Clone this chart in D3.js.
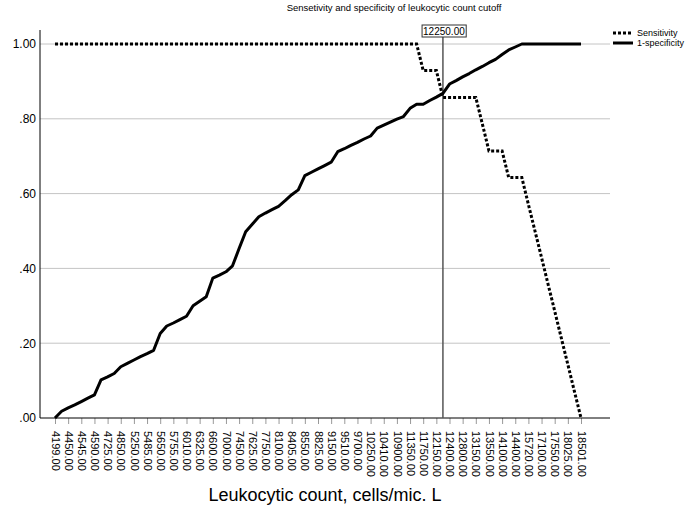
<!DOCTYPE html>
<html>
<head>
<meta charset="utf-8">
<script src="https://cdn.jsdelivr.net/npm/d3@7"></script>
<style>
  html, body { margin: 0; padding: 0; background: #fff; }
  svg { display: block; font-family: "Liberation Sans", Arial, sans-serif; }
</style>
</head>
<body>
<svg id="chart" width="685" height="510"></svg>
<script>
// Cut-off values (every other one is labelled on the axis)
const cutoffs = [4199,4300,4450,4500,4545,4570,4590,4650,4725,4800,4850,5050,5250,5350,5485,5550,5650,5700,5755,5900,
  6010,6150,6325,6450,6600,6800,7000,7250,7450,7550,7625,7700,7750,7900,8100,8250,8405,8500,8550,8700,
  8825,9000,9150,9350,9510,9600,9700,9950,10250,10350,10410,10650,10900,11100,11350,11550,11750,11950,12150,12250,
  12400,12600,12800,12950,13150,13350,13550,13800,14100,14250,14400,15050,15720,16400,17100,17300,17550,17800,18025,18250,18501];

const tickLabels = [4199,4450,4545,4590,4725,4850,5250,5485,5650,5755,6010,6325,6600,7000,7450,7625,7750,8100,8405,8550,
  8825,9150,9510,9700,10250,10410,10900,11350,11750,12150,12400,12800,13150,13550,14100,14400,15720,17100,17550,18025,18501];

const sensitivity = [1,1,1,1,1,1,1,1,1,1,1,1,1,1,1,1,1,1,1,1,
  1,1,1,1,1,1,1,1,1,1,1,1,1,1,1,1,1,1,1,1,
  1,1,1,1,1,1,1,1,1,1,1,1,1,1,1,1,0.929,0.929,0.929,0.857,
  0.857,0.857,0.857,0.857,0.857,0.786,0.714,0.714,0.714,0.643,0.643,0.643,0.571,0.5,0.429,0.357,0.286,0.214,0.143,0.071,0];

const oneMinusSpecificity = [0,0.018,0.027,0.035,0.044,0.053,0.062,0.102,0.110,0.119,0.137,0.146,0.155,0.164,0.172,0.181,0.226,0.246,0.254,0.263,
  0.272,0.300,0.312,0.324,0.374,0.382,0.391,0.407,0.453,0.498,0.518,0.538,0.548,0.557,0.566,0.581,0.597,0.610,0.648,0.657,
  0.666,0.675,0.684,0.712,0.720,0.729,0.737,0.746,0.754,0.775,0.783,0.791,0.799,0.806,0.828,0.839,0.839,0.849,0.858,0.868,
  0.893,0.902,0.912,0.921,0.931,0.940,0.950,0.959,0.972,0.984,0.992,1,1,1,1,1,1,1,1,1,1];

const yTicks = [0, 0.2, 0.4, 0.6, 0.8, 1.0];
const refCutoff = 12250;
const title = "Sensetivity and specificity of leukocytic count cutoff";
const xTitle = "Leukocytic count, cells/mic. L";
const seriesNames = ["Sensitivity", "1-specificity"];

const svg = d3.select("#chart");
const plot = { left: 40, right: 610, top: 30, bottom: 418 };

const x = d3.scalePoint().domain(cutoffs).range([55, 581]);
const y = d3.scaleLinear().domain([0, 1]).range([plot.bottom, 44]);

// Title
svg.append("text").attr("x", 394).attr("y", 11).attr("text-anchor", "middle")
  .attr("font-size", 9.5).attr("fill", "#000").text(title);

// Gridlines
svg.append("g").selectAll("line").data(yTicks.filter(d => d > 0)).join("line")
  .attr("x1", plot.left).attr("x2", plot.right)
  .attr("y1", d => y(d)).attr("y2", d => y(d))
  .attr("stroke", "#c4c4c4").attr("stroke-width", 1);

// Y axis
const yAxis = svg.append("g").attr("transform", `translate(${plot.left},0)`)
  .call(d3.axisLeft(y).tickValues(yTicks).tickSize(0).tickPadding(4)
    .tickFormat(d => d.toFixed(2).replace(/^0/, "")));
yAxis.select(".domain").remove();
yAxis.selectAll("text").attr("font-size", 12).attr("fill", "#000").style("font-family", "Liberation Sans, Arial, sans-serif");
svg.append("line").attr("x1", plot.left).attr("x2", plot.left)
  .attr("y1", plot.top).attr("y2", plot.bottom).attr("stroke", "#000").attr("stroke-width", 1);

// X axis
const xAxis = svg.append("g").attr("transform", `translate(0,${plot.bottom})`)
  .call(d3.axisBottom(x).tickValues(tickLabels).tickSizeOuter(0).tickSize(6)
    .tickFormat(d => d.toFixed(2)));
xAxis.select(".domain").remove();
xAxis.selectAll(".tick line").attr("stroke", "#999");
xAxis.selectAll("text")
  .attr("transform", "rotate(90)")
  .attr("text-anchor", "start")
  .attr("x", 13).attr("y", 0).attr("dy", "0.35em")
  .attr("font-size", 11).attr("fill", "#000").style("font-family", "Liberation Sans, Arial, sans-serif");
svg.append("line").attr("x1", plot.left).attr("x2", plot.right)
  .attr("y1", plot.bottom).attr("y2", plot.bottom).attr("stroke", "#000").attr("stroke-width", 1);

// X title
svg.append("text").attr("x", 325).attr("y", 501).attr("text-anchor", "middle")
  .attr("font-size", 18).attr("fill", "#000").text(xTitle);

// Reference line
const rx = x(refCutoff);
svg.append("line").attr("x1", rx).attr("x2", rx).attr("y1", 36).attr("y2", plot.bottom)
  .attr("stroke", "#555").attr("stroke-width", 1.5);
const refLabel = svg.append("g");
const refText = refLabel.append("text").attr("x", rx + 1).attr("y", 34.5).attr("text-anchor", "middle")
  .attr("font-size", 10).attr("fill", "#000").text(refCutoff.toFixed(2));
const bb = refText.node().getBBox();
refLabel.insert("rect", "text").attr("x", bb.x - 1).attr("y", 25).attr("width", bb.width + 2).attr("height", 12)
  .attr("fill", "#fff").attr("stroke", "#333").attr("stroke-width", 1);

// Lines
const line = d3.line().x((d, i) => x(cutoffs[i])).y(d => y(d));
svg.append("path").datum(oneMinusSpecificity).attr("d", line)
  .attr("fill", "none").attr("stroke", "#000").attr("stroke-width", 3).attr("stroke-linejoin", "round");
svg.append("path").datum(sensitivity).attr("d", line)
  .attr("fill", "none").attr("stroke", "#000").attr("stroke-width", 3).attr("stroke-dasharray", "3,2");

// Legend
const legend = svg.append("g");
const items = [
  { name: seriesNames[0], dash: "3,2", yy: 33 },
  { name: seriesNames[1], dash: null, yy: 43 }
];
items.forEach(it => {
  legend.append("line").attr("x1", 613).attr("x2", 633).attr("y1", it.yy).attr("y2", it.yy)
    .attr("stroke", "#000").attr("stroke-width", 3).attr("stroke-dasharray", it.dash);
  legend.append("text").attr("x", 637).attr("y", it.yy + 3).attr("font-size", 9).attr("fill", "#000").text(it.name);
});
</script>
</body>
</html>
